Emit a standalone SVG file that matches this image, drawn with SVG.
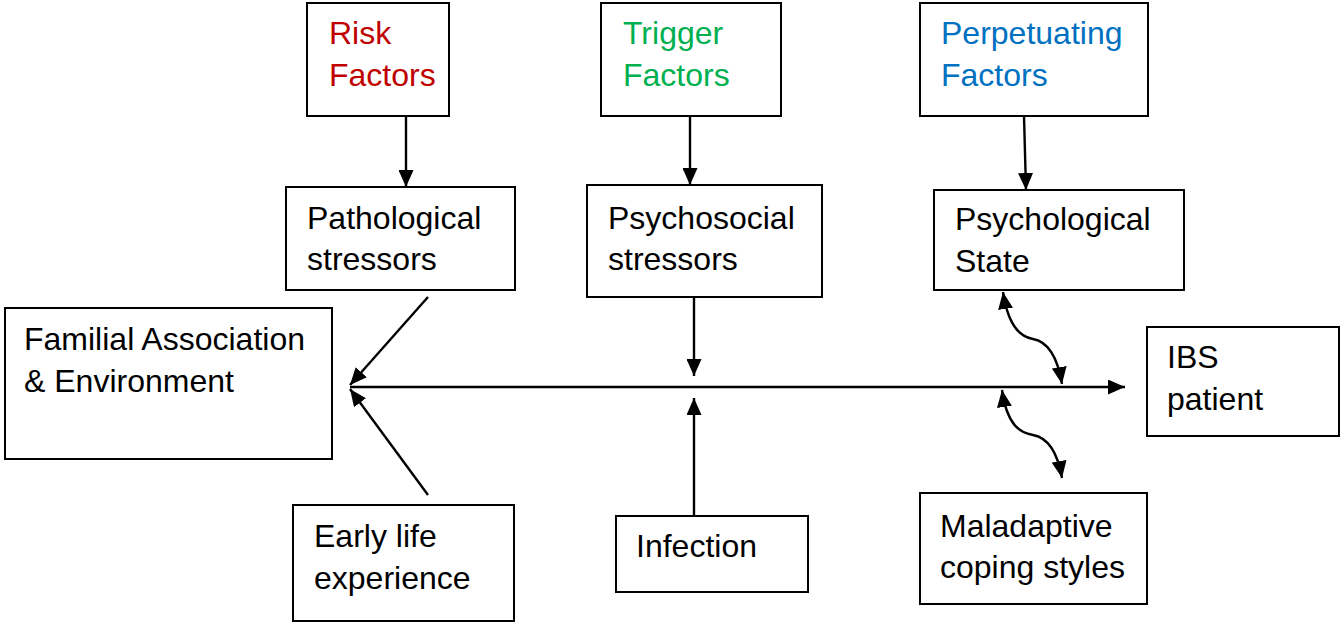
<svg xmlns="http://www.w3.org/2000/svg" width="1340" height="624" viewBox="0 0 1340 624">
<style>
.box{fill:#fff;stroke:#000;stroke-width:2}
.t{font-family:"Liberation Sans",Arial,sans-serif;font-size:32px;fill:#000}
.line{fill:none;stroke:#000;stroke-width:2.4}
</style>
<defs>
<marker id="ah" viewBox="0 0 17 15" refX="17" refY="7.5" markerWidth="17" markerHeight="15" markerUnits="userSpaceOnUse" orient="auto-start-reverse">
<path d="M0,0 L17,7.5 L0,15 z" fill="#000"/>
</marker>
</defs>
<rect width="1340" height="624" fill="#fff"/>
<g id="risk"><rect class="box" x="307" y="3" width="142" height="113"/><text class="t" x="329" y="44" style="fill:#C00000">Risk</text><text class="t" x="329" y="86" style="fill:#C00000">Factors</text></g>
<g id="trigger"><rect class="box" x="601" y="3" width="180" height="113"/><text class="t" x="623" y="44" style="fill:#00B050">Trigger</text><text class="t" x="623" y="86" style="fill:#00B050">Factors</text></g>
<g id="perpetuating"><rect class="box" x="920" y="3" width="228" height="113"/><text class="t" x="941" y="44" style="fill:#0070C0">Perpetuating</text><text class="t" x="941" y="86" style="fill:#0070C0">Factors</text></g>
<g id="pathological"><rect class="box" x="286" y="187" width="229" height="103"/><text class="t" x="307" y="229">Pathological</text><text class="t" x="307" y="270">stressors</text></g>
<g id="psychosocial"><rect class="box" x="587" y="185" width="235" height="112"/><text class="t" x="608" y="229">Psychosocial</text><text class="t" x="608" y="270">stressors</text></g>
<g id="psychological"><rect class="box" x="934" y="190" width="250" height="100"/><text class="t" x="955" y="230">Psychological</text><text class="t" x="955" y="272">State</text></g>
<g id="familial"><rect class="box" x="5" y="308" width="327" height="151"/><text class="t" x="24" y="350">Familial Association</text><text class="t" x="24" y="392">&amp; Environment</text></g>
<g id="ibs"><rect class="box" x="1147" y="327" width="192" height="109"/><text class="t" x="1167" y="368">IBS</text><text class="t" x="1167" y="410">patient</text></g>
<g id="early"><rect class="box" x="293" y="505" width="221" height="116"/><text class="t" x="314" y="547">Early life</text><text class="t" x="314" y="589">experience</text></g>
<g id="infection"><rect class="box" x="616" y="516" width="192" height="76"/><text class="t" x="636" y="557">Infection</text></g>
<g id="maladaptive"><rect class="box" x="920" y="493" width="227" height="111"/><text class="t" x="940" y="537">Maladaptive</text><text class="t" x="940" y="578">coping styles</text></g>
<g id="connectors">
<line class="line" x1="406" y1="116" x2="406" y2="187" marker-end="url(#ah)"/>
<line class="line" x1="690" y1="116" x2="690" y2="185" marker-end="url(#ah)"/>
<line class="line" x1="1024" y1="116" x2="1026" y2="190" marker-end="url(#ah)"/>
<line class="line" x1="350" y1="387" x2="1125" y2="387" marker-end="url(#ah)"/>
<line class="line" x1="428" y1="297" x2="350" y2="385" marker-end="url(#ah)"/>
<line class="line" x1="428" y1="495" x2="350" y2="389" marker-end="url(#ah)"/>
<line class="line" x1="694" y1="297" x2="694" y2="376" marker-end="url(#ah)"/>
<line class="line" x1="694" y1="516" x2="694" y2="398" marker-end="url(#ah)"/>
<path class="line" d="M1003,292 C1008,325 1020,337 1033,339 C1050,342 1058,360 1062,384" marker-start="url(#ah)" marker-end="url(#ah)"/>
<path class="line" d="M1002,390 C1007,425 1020,433 1033,435 C1050,438 1058,455 1062,478" marker-start="url(#ah)" marker-end="url(#ah)"/>
</g>
</svg>
